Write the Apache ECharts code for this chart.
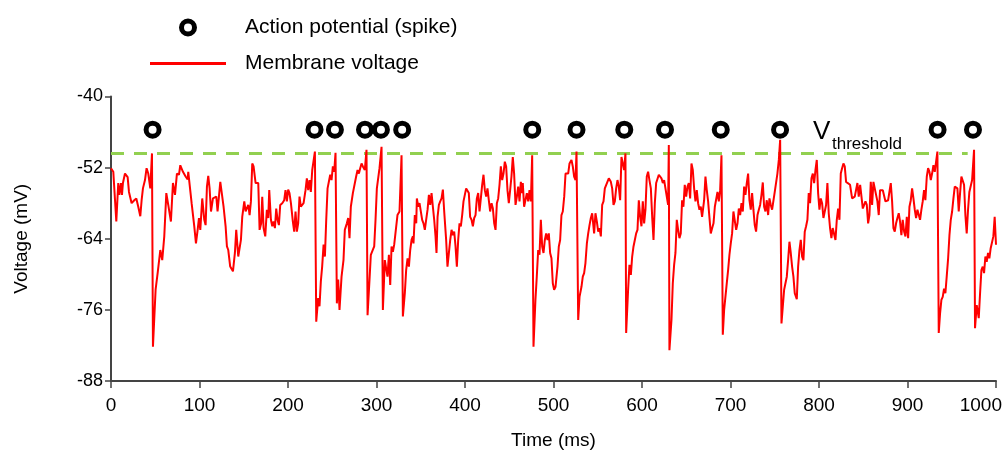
<!DOCTYPE html>
<html><head><meta charset="utf-8">
<script src="https://cdn.jsdelivr.net/npm/echarts@6/dist/echarts.min.js"></script>
<style>html,body{margin:0;padding:0;background:#fff}#c{width:1008px;height:455px}</style>
</head><body><div id="c"></div>
<script>
// ---- data ----
const timeMs = [
0,2.6,6.0,8.2,9.4,11.3,12.4,13.5,15.8,18.8,
20.3,21.8,23.3,26.3,28.6,30.8,33.1,34.6,36.1,38.4,
40.2,42.1,44.4,46.3,47.4,50.4,52.7,55.7,57.9,60.2,
62.5,64.7,67.7,70.0,72.3,74.5,76.8,78.3,81.3,84.3,
86.6,87.3,91.1,94.1,96.0,97.9,99.4,100.9,103.1,105.4,
106.9,108.4,109.9,111.4,113.0,115.2,119.0,120.4,123.5,127.2,
129.5,131.0,132.5,134.7,137.8,140.0,141.5,143.8,146.8,148.3,
150.6,152.1,155.1,156.6,158.1,159.6,161.1,163.4,166.4,
167.9,169.7,170.9,172.4,174.3,176.1,177.7,178.8,180.7,182.2,
183.7,185.2,186.7,188.2,189.7,191.2,193.5,195.7,197.2,198.7,
200.2,201.7,203.3,205.5,207.0,208.5,210.0,211.5,213.0,214.5,
217.6,219.8,221.3,222.8,224.3,225.8,227.4,228.9,230.4,231.9,
234.1,235.6,237.1,238.6,240.2,241.7,243.2,244.7,246.2,247.7,
249.2,250.7,252.2,253.7,255.2,256.7,258.2,260.5,262.7,264.2,
266.5,268.0,269.5,271.0,273.3,275.5,277.0,278.6,280.1,281.6,
283.1,284.6,286.8,288.7,289.9,292.1,293.6,295.1,297.4,298.9,
300.4,303.4,305.7,307.2,309.4,311.0,312.4,314.0,315.5,317.0,
318.5,320.0,322.2,323.7,326.0,328.3,329.8,332.0,333.5,
335.1,336.6,338.1,339.6,341.1,341.8,343.3,344.9,345.6,347.1,
348.6,350.1,351.6,353.1,354.6,356.1,357.7,359.2,360.7,362.2,
363.7,365.2,366.7,367.8,369.0,370.5,372.0,373.5,375.0,376.5,
378.0,378.7,380.2,381.8,383.3,384.8,386.3,387.8,389.3,390.8,
392.3,393.8,395.3,396.8,398.3,399.8,401.3,402.8,404.3,405.8,
407.4,408.9,410.4,411.9,413.4,414.9,416.4,417.9,419.4,420.9,
422.4,423.9,425.4,426.9,428.4,430.0,431.5,433.0,434.5,436.0,
437.5,439.0,440.5,442.0,443.5,445.0,446.5,448.0,449.5,451.0,
452.5,454.0,455.5,457.1,458.6,460.1,461.6,463.1,464.6,465.3,
466.8,468.3,469.9,471.4,472.9,474.4,475.9,477.4,479.6,481.1,
482.7,484.2,485.7,487.2,488.7,490.2,491.7,493.2,494.7,496.2,
497.7,499.2,500.7,
502.3,504.5,506.0,507.5,509.0,510.5,512.1,513.6,515.1,516.6,
518.1,519.6,520.3,521.8,523.3,524.9,526.0,527.9,529.4,531.6,
533.1,534.6,536.1,537.7,539.2,540.7,542.2,543.7,545.9,547.4,
549.0,550.5,552.0,553.5,555.0,556.5,558.0,560.2,562.5,564.8,
566.3,567.8,569.3,570.8,572.3,573.8,575.3,576.8,578.3,579.8,
581.3,582.1,584.3,585.8,587.4,588.9,590.4,591.9,593.4,594.9,
596.4,597.9,599.4,600.9,602.4,603.9,605.4,606.9,608.4,610.0,
611.5,613.0,614.5,616.0,617.5,619.0,620.5,622.0,623.5,625.0,
626.5,628.0,629.5,630.3,631.0,633.3,634.8,636.3,637.8,639.3,
640.8,642.3,643.8,645.3,646.8,648.3,649.9,651.4,652.9,654.4,
655.9,657.4,658.9,660.4,661.9,663.4,664.9,666.4,667.9,
670.2,671.7,673.2,674.7,676.2,677.7,679.3,680.8,682.3,683.8,
685.3,686.8,688.3,689.8,691.3,692.8,694.3,695.8,697.3,698.8,
700.3,701.8,703.3,704.9,706.4,707.9,709.4,710.9,712.4,713.9,
715.4,716.9,718.4,719.9,721.4,722.9,724.4,725.9,727.4,728.9,
730.5,732.0,733.5,735.0,736.5,738.0,739.5,741.0,742.5,744.0,
745.5,747.0,748.5,750.0,751.5,753.0,754.6,756.1,757.6,759.1,
760.6,762.1,763.6,765.1,766.6,768.1,769.6,771.1,772.6,774.9,
776.4,777.9,779.4,780.9,782.4,783.9,785.4,786.9,788.4,789.9,
791.5,793.0,794.5,796.0,797.5,799.0,800.5,802.0,803.5,805.0,
806.5,808.0,809.5,811.0,812.5,814.0,815.5,817.1,818.6,820.1,
821.6,823.1,824.6,826.1,827.6,829.1,830.6,832.1,835.1,
837.4,838.9,840.4,841.9,843.4,844.9,846.5,848.0,849.5,851.0,
852.5,854.0,855.5,857.0,858.5,860.0,861.5,863.0,864.5,866.0,
867.5,869.0,870.5,872.1,873.6,875.1,876.6,878.1,879.6,881.1,
882.6,884.1,885.6,887.1,888.6,890.1,891.6,893.1,894.6,896.2,
897.7,899.2,900.7,902.2,903.7,905.2,906.7,908.2,909.7,911.2,
912.7,914.2,915.7,917.2,918.7,920.2,921.8,923.3,924.8,926.3,
927.8,929.3,930.8,932.3,933.8,935.3,936.8,938.3,939.8,941.3,
942.8,944.3,945.9,947.4,948.9,950.4,951.9,953.4,954.9,956.4,
957.9,959.4,960.9,962.4,963.9,965.4,966.9,968.4,969.9,971.5,
973.0,975.2,976.3,978.2,980.5,982.0,983.5,985.0,986.5,988.0,
989.5,991.0,992.5,994.0,995.5,997.0,998.5,1000
];
const voltageMv = [
-52.1,-52.7,-61.1,-54.6,-56.6,-54.6,-56.6,-54.6,-53.0,-53.6,
-56.1,-56.1,-58.0,-57.5,-57.2,-58.6,-60.2,-57.5,-55.5,-54.1,
-52.1,-53.0,-55.5,-49.6,-82.2,-72.6,-69.8,-65.9,-67.6,-63.6,
-56.3,-58.3,-61.1,-54.6,-56.6,-53.0,-53.2,-51.6,-52.7,-53.5,
-54.0,-52.7,-58.0,-61.9,-64.8,-62.5,-60.5,-62.5,-57.2,-60.8,
-61.7,-55.2,-53.4,-55.5,-59.4,-57.2,-56.9,-59.4,-54.4,-58.6,
-61.9,-65.3,-65.9,-68.7,-69.5,-66.4,-62.5,-67.0,-64.2,-60.3,
-57.7,-59.4,-58.3,-60.0,-57.7,-51.3,-51.8,-54.6,-54.6,
-62.5,-61.4,-56.9,-62.2,-63.6,-59.1,-60.5,-55.8,-60.8,-61.9,
-61.1,-62.2,-58.9,-60.8,-61.7,-58.3,-58.0,-57.5,-55.8,-57.7,
-55.7,-56.3,-58.0,-61.1,-62.8,-59.4,-62.8,-61.4,-56.9,-58.6,
-58.0,-55.8,-53.8,-55.8,-54.1,-56.1,-52.4,-52.7,-49.3,-78.0,
-74.0,-75.4,-71.2,-68.7,-65.0,-67.0,-60.8,-55.5,-55.2,-53.2,
-54.1,-51.8,-52.7,-49.5,-74.9,-70.9,-76.0,-70.4,-67.6,-62.5,
-61.4,-60.5,-63.9,-58.6,-56.3,-56.1,-53.5,-52.4,-53.0,-52.1,
-51.3,-51.8,-52.4,-49.0,-76.9,-70.9,-66.7,-66.7,-65.3,-60.8,
-55.5,-52.1,-48.5,-76.0,-67.6,-67.3,-70.4,-66.7,-71.8,-65.3,
-66.2,-65.0,-65.3,-60.0,-59.4,-49.9,-77.1,-73.2,-69.3,
-67.3,-68.7,-65.9,-64.2,-63.6,-64.8,-60.0,-61.4,-57.2,-58.6,
-58.0,-58.3,-60.8,-61.4,-62.5,-60.8,-59.1,-56.6,-58.3,-56.3,
-58.6,-60.8,-63.6,-66.4,-60.3,-58.3,-57.7,-57.2,-55.7,-59.4,
-59.1,-64.2,-68.7,-66.4,-64.2,-62.5,-63.4,-62.8,-65.3,-68.7,
-64.2,-61.4,-61.9,-60.0,-57.7,-57.5,-55.5,-55.2,-56.3,-60.3,
-60.8,-61.9,-60.5,-60.0,-57.2,-56.3,-59.4,-57.2,-54.9,-53.2,
-55.8,-56.9,-55.5,-57.5,-59.4,-58.0,-58.9,-61.4,-62.5,-58.0,
-57.2,-54.9,-51.8,-54.1,-53.0,-51.0,-51.8,-55.8,-58.0,-55.8,
-53.5,-50.2,-53.0,-58.3,-56.9,-55.2,-57.7,-54.4,-56.3,-54.6,
-58.6,-58.3,-56.3,-57.7,-55.8,-57.7,-49.9,-82.2,-74.3,-70.4,
-65.9,-66.7,-60.8,-65.3,-66.4,-64.2,-63.1,-64.2,-63.1,-66.4,
-67.3,-71.5,-72.6,
-72.1,-68.7,-65.3,-64.2,-60.0,-59.4,-56.9,-53.0,-52.7,-53.0,
-51.3,-51.6,-50.7,-51.8,-53.5,-54.1,-49.3,-77.7,-73.8,-72.1,
-70.4,-69.8,-68.1,-64.8,-63.1,-61.7,-60.5,-59.7,-63.1,-59.7,
-61.1,-62.8,-62.2,-63.6,-58.3,-57.7,-55.5,-55.5,-53.8,-54.4,
-55.5,-58.3,-57.7,-55.5,-54.1,-55.2,-57.5,-50.2,-51.3,-52.4,
-49.6,-79.9,-72.6,-68.4,-70.1,-67.0,-65.3,-64.2,-63.1,-62.5,
-57.5,-60.3,-61.9,-57.7,-61.4,-59.1,-53.5,-52.7,-54.1,-55.5,
-60.3,-64.2,-58.0,-54.6,-54.9,-53.2,-53.0,-53.8,-54.6,-54.1,
-55.5,-55.8,-58.3,-48.2,-82.8,-77.7,-71.5,-68.4,-66.4,-60.8,
-62.5,-63.9,-63.1,-57.5,-58.6,-54.9,-56.9,-55.2,-54.6,-57.2,
-51.3,-52.4,-55.5,-57.7,-55.8,-58.0,-59.1,-58.6,-60.3,
-57.5,-53.5,-55.8,-57.7,-57.5,-63.1,-62.2,-61.4,-58.6,-58.3,
-56.1,-57.7,-55.8,-49.9,-80.2,-76.0,-76.3,-71.5,-69.3,-66.7,
-64.8,-63.1,-59.4,-59.1,-62.5,-61.4,-58.9,-60.0,-58.0,-59.4,
-55.2,-56.6,-54.6,-53.0,-57.5,-59.1,-56.3,-59.1,-61.7,-62.8,
-60.0,-59.1,-58.3,-56.6,-54.5,-58.6,-59.4,-57.5,-60.0,-57.2,
-58.3,-59.1,-58.9,-56.1,-55.8,-53.0,-50.7,-47.3,-78.3,-75.4,
-72.6,-72.9,-70.4,-67.6,-64.5,-66.4,-68.7,-70.4,-73.2,-74.2,
-68.7,-65.9,-64.2,-67.0,-67.6,-62.8,-61.9,-60.8,-56.3,-58.0,
-53.8,-53.0,-54.6,-52.4,-50.7,-56.3,-59.1,-57.2,-58.0,-60.5,
-59.4,-58.3,-54.6,-59.7,-62.2,-63.9,-62.2,-61.9,-64.2,-60.8,
-58.9,-60.8,-53.0,-52.1,-51.3,-51.8,-54.4,-54.6,-54.9,
-57.2,-56.9,-56.9,-56.6,-54.6,-56.9,-54.9,-55.2,-58.9,-58.6,
-57.7,-58.3,-61.4,-60.0,-54.4,-58.3,-54.4,-54.6,-56.6,-57.7,
-60.0,-55.8,-55.5,-55.8,-55.5,-57.7,-57.5,-57.5,-57.2,-54.6,
-57.7,-62.2,-62.8,-61.4,-60.5,-59.7,-61.1,-63.4,-60.8,-62.8,
-63.6,-60.3,-63.9,-58.6,-57.5,-55.5,-57.2,-59.1,-60.5,-59.1,
-59.4,-60.8,-59.1,-57.7,-55.8,-57.5,-53.5,-52.1,-52.7,-54.1,
-53.0,-51.6,-52.7,-53.0,-49.3,-79.9,-76.6,-74.3,-73.8,-72.4,
-73.2,-70.4,-67.3,-63.4,-60.8,-59.4,-57.2,-55.2,-55.2,-55.5,
-59.4,-56.3,-53.5,-53.2,-54.9,-60.0,-63.1,-59.1,-56.1,-56.3,
-54.1,-49.0,-79.1,-75.2,-77.4,-73.2,-69.3,-68.7,-69.8,-67.0,
-67.9,-66.4,-67.3,-65.6,-65.3,-63.6,-60.3,-65.0
];
const spikeTimesMs = [47,230,253,287,305,329,476,526,580,626,689,756,934,974];
const spikeMarkerMv = -45.6;
const thresholdMv = -49.6;
const thresholdExtentMs = [0, 968];
const xTickValues = [0,100,200,300,400,500,600,700,800,900,1000];
const yTickValues = [-88,-76,-64,-52,-40];
const seriesNames = ['Action potential (spike)', 'Membrane voltage'];

// ---- chart ----
const FONT = "'Liberation Sans', Arial, Helvetica, sans-serif";
const chart = echarts.init(document.getElementById('c'), null, {renderer:'canvas'});
const axisColor = '#444';
const xMax = xTickValues[xTickValues.length-1];
chart.setOption({
  animation: false,
  backgroundColor: '#fff',
  textStyle: {fontFamily: FONT},
  grid: {left: 111, right: 12, top: 96.5, bottom: 74, containLabel: false, outerBoundsMode: 'none'},
  legend: {
    orient: 'vertical', left: 150, top: 17, padding: 0,
    itemGap: 15, itemWidth: 76, itemHeight: 13,
    selectedMode: false, symbolKeepAspect: true,
    data: [
      {name: seriesNames[0], icon: 'circle',
       itemStyle: {color: '#fff', borderColor: '#000', borderWidth: 5}},
      {name: seriesNames[1], icon: 'path://M0,0h76v3h-76z',
       itemStyle: {color: '#ff0000', borderWidth: 0}}
    ],
    textStyle: {fontSize: 21, color: '#000', fontFamily: FONT, padding: [0, 0, 0, 14]}
  },
  xAxis: {
    type: 'value', min: xTickValues[0], max: xMax,
    interval: xTickValues[1] - xTickValues[0],
    name: 'Time (ms)', nameLocation: 'middle', nameGap: 50,
    nameTextStyle: {fontSize: 19, color: '#000', fontFamily: FONT},
    axisLine: {onZero: false, lineStyle: {color: axisColor, width: 2}},
    axisTick: {length: 7, lineStyle: {color: axisColor, width: 1.5}},
    axisLabel: {
      fontSize: 19, color: '#000', margin: 15, fontFamily: FONT,
      alignMaxLabel: 'right',
      formatter: v => v === xMax ? '{m|' + v + '}' : String(v),
      rich: {m: {fontSize: 19, color: '#000', fontFamily: FONT, padding: [0, -6, 0, 0]}}
    },
    splitLine: {show: false}
  },
  yAxis: {
    type: 'value', min: yTickValues[0], max: yTickValues[yTickValues.length-1],
    interval: yTickValues[1] - yTickValues[0],
    name: 'Voltage (mV)', nameLocation: 'middle', nameRotate: 90, nameGap: 80,
    nameTextStyle: {fontSize: 19, color: '#000', fontFamily: FONT},
    axisLine: {show: true, lineStyle: {color: axisColor, width: 2}},
    axisTick: {show: true, length: 6, lineStyle: {color: axisColor, width: 1.5}},
    axisLabel: {fontSize: 18, color: '#000', margin: 8, fontFamily: FONT, formatter: v => String(v)},
    splitLine: {show: false}
  },
  graphic: [
    {type: 'text', left: 813, top: 119, style: {text: 'V', fontSize: 26, fill: '#000', fontFamily: FONT}, z: 10},
    {type: 'text', left: 832, top: 136, style: {text: 'threshold', fontSize: 17, fill: '#000', fontFamily: FONT}, z: 10}
  ],
  series: [
    {
      type: 'line', name: 'threshold', silent: true, symbol: 'none',
      data: thresholdExtentMs.map(t => [t, thresholdMv]),
      lineStyle: {color: '#92d050', width: 3, type: [13, 10]}, z: 1
    },
    {
      type: 'line', name: seriesNames[1], symbol: 'none',
      data: timeMs.map((t, i) => [t, voltageMv[i]]),
      lineStyle: {color: '#ff0000', width: 2}, itemStyle: {color: '#ff0000'}, z: 2
    },
    {
      type: 'scatter', name: seriesNames[0], symbol: 'circle', symbolSize: 13,
      data: spikeTimesMs.map(t => [t, spikeMarkerMv]),
      itemStyle: {color: '#fff', borderColor: '#000', borderWidth: 5, opacity: 1}, z: 3
    }
  ]
});
</script>
</body></html>
